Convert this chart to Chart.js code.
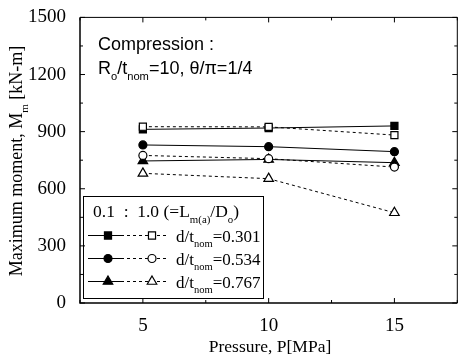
<!DOCTYPE html>
<html>
<head>
<meta charset="utf-8">
<script src="https://cdn.jsdelivr.net/npm/chart.js@4/dist/chart.umd.min.js"></script>
<style>
  html, body { margin: 0; padding: 0; background: #fff; overflow: hidden; }
  #wrap { width: 464px; height: 363px; }
</style>
</head>
<body>
<div id="wrap"><canvas id="chart" width="464" height="363"></canvas></div>
<script>
// pressure [MPa]
const pressures = [5, 10, 15];
// maximum moment [kN-m], filled = 0.1 ratio, open = 1.0 ratio
const sqFilled = [912, 919, 930];
const sqOpen = [926, 925, 882];
const ciFilled = [830, 821, 795];
const ciOpen = [775, 758, 714];
const trFilled = [746, 754, 737];
const trOpen = [681, 653, 474];
const xTicks = [5, 10, 15];
const yTicks = [0, 300, 600, 900, 1200, 1500];
const dRatios = ['0.301', '0.534', '0.767'];

const SERIF = '"Liberation Serif", "Times New Roman", serif';
const SANS = '"Liberation Sans", Arial, sans-serif';

const pts = arr => pressures.map((p, i) => ({ x: p, y: arr[i] }));

function series(arr, style, radius, open) {
  return {
    data: pts(arr),
    borderColor: '#000',
    borderWidth: 1,
    borderDash: open ? [3, 3] : [],
    pointStyle: style,
    pointRadius: radius,
    pointBorderWidth: 1.2,
    pointBorderColor: '#000',
    pointBackgroundColor: open ? '#fff' : '#000',
    tension: 0,
    fill: false
  };
}

// open series first so they sit on top of the filled ones
const datasets = [
  series(sqOpen, 'rect', 5, true),
  series(ciOpen, 'circle', 4, true),
  series(trOpen, 'triangle', 5.5, true),
  series(sqFilled, 'rect', 5, false),
  series(ciFilled, 'circle', 4, false),
  series(trFilled, 'triangle', 5.5, false)
];

function rich(ctx, parts, x, y, size, family, measureOnly) {
  let w = 0;
  parts.forEach(([t, sub]) => {
    const s = sub ? size * 0.62 : size;
    ctx.font = s + 'px ' + family;
    if (!measureOnly) ctx.fillText(t, x + w, y + (sub ? size * 0.32 : 0));
    w += ctx.measureText(t).width;
  });
  return w;
}

function marker(ctx, style, radius, open, x, y) {
  const opts = { pointStyle: style, radius: radius, rotation: 0, borderWidth: 1.2 };
  ctx.save();
  ctx.fillStyle = open ? '#fff' : '#000';
  ctx.strokeStyle = '#000';
  ctx.lineWidth = 1.2;
  ctx.setLineDash([]);
  Chart.helpers.drawPoint(ctx, opts, x, y);
  ctx.restore();
}

const decor = {
  id: 'decor',
  afterDraw(chart) {
    const { ctx, chartArea: a, scales } = chart;
    const xs = scales.x, ys = scales.y;
    ctx.save();
    ctx.strokeStyle = '#000';
    ctx.fillStyle = '#000';

    // frame
    ctx.lineWidth = 1.5;
    ctx.beginPath();
    ctx.moveTo(a.left, a.top); ctx.lineTo(a.left, a.bottom); ctx.lineTo(a.right, a.bottom);
    ctx.stroke();
    ctx.lineWidth = 1;
    ctx.beginPath();
    ctx.moveTo(a.left, a.top); ctx.lineTo(a.right, a.top); ctx.lineTo(a.right, a.bottom);
    ctx.stroke();

    // inward ticks
    ctx.lineWidth = 1;
    ctx.beginPath();
    for (let v = 0; v <= 1500; v += 150) {
      const py = ys.getPixelForValue(v);
      const len = v % 300 === 0 ? 5 : 3;
      ctx.moveTo(a.left, py); ctx.lineTo(a.left + len, py);
      ctx.moveTo(a.right, py); ctx.lineTo(a.right - len, py);
    }
    for (let v = 2.5; v <= 17.5; v += 2.5) {
      const px = xs.getPixelForValue(v);
      const len = v % 5 === 0 ? 5 : 3;
      ctx.moveTo(px, a.bottom); ctx.lineTo(px, a.bottom - len);
      ctx.moveTo(px, a.top); ctx.lineTo(px, a.top + len);
    }
    ctx.stroke();

    // axis titles
    ctx.textBaseline = 'alphabetic';
    const xt = [['Pressure, P[MPa]', false]];
    const xw = rich(ctx, xt, 0, 0, 17.5, SERIF, true);
    rich(ctx, xt, 270 - xw / 2, 352, 17.5, SERIF);

    const yt = [['Maximum moment, M', false], ['m', true], [' [kN-m]', false]];
    const yw = rich(ctx, yt, 0, 0, 18, SERIF, true);
    ctx.save();
    ctx.translate(22, 161);
    ctx.rotate(-Math.PI / 2);
    rich(ctx, yt, -yw / 2, 0, 18, SERIF);
    ctx.restore();

    // annotation
    rich(ctx, [['Compression :', false]], 98, 50, 18, SANS);
    rich(ctx, [['R', false], ['o', true], ['/t', false], ['nom', true], ['=10, \u03b8/\u03c0=1/4', false]], 98, 74, 18, SANS);

    // legend
    ctx.lineWidth = 1;
    ctx.strokeRect(83.5, 196.5, 180, 102);
    rich(ctx, [['0.1  :  1.0 (=L', false], ['m(a)', true], ['/D', false], ['o', true], [')', false]], 93, 217, 17.5, SERIF);
    const styles = [['rect', 5], ['circle', 4], ['triangle', 5.5]];
    const rowsY = [235.5, 258.5, 281.5];
    rowsY.forEach((ry, i) => {
      ctx.setLineDash([]);
      ctx.beginPath(); ctx.moveTo(88, ry); ctx.lineTo(124, ry); ctx.stroke();
      ctx.setLineDash([3, 3]);
      ctx.beginPath(); ctx.moveTo(127, ry); ctx.lineTo(168, ry); ctx.stroke();
      ctx.setLineDash([]);
      marker(ctx, styles[i][0], styles[i][1], false, 108, ry);
      marker(ctx, styles[i][0], styles[i][1], true, 152, ry);
      ctx.fillStyle = '#000';
      rich(ctx, [['d/t', false], ['nom', true], ['=' + dRatios[i], false]], 176, ry + 6, 17, SERIF);
    });
    ctx.restore();
  }
};

new Chart(document.getElementById('chart'), {
  type: 'line',
  data: { datasets },
  options: {
    responsive: false,
    animation: false,
    layout: { padding: { top: 17, right: 2, left: 0, bottom: 0 } },
    plugins: { legend: { display: false }, tooltip: { enabled: false } },
    scales: {
      x: {
        type: 'linear', min: 2.5, max: 17.5,
        afterBuildTicks: s => { s.ticks = xTicks.map(v => ({ value: v })); },
        afterFit: s => { s.height = 60; },
        grid: { display: false }, border: { display: false },
        ticks: { color: '#000', font: { family: SERIF, size: 19 }, padding: 4, maxRotation: 0, callback: v => String(v) }
      },
      y: {
        min: 0, max: 1500,
        afterBuildTicks: s => { s.ticks = yTicks.map(v => ({ value: v })); },
        afterFit: s => { s.width = 80; },
        grid: { display: false }, border: { display: false },
        ticks: { color: '#000', font: { family: SERIF, size: 19 }, padding: 6, callback: v => String(v) }
      }
    }
  },
  plugins: [decor]
});
</script>
</body>
</html>
